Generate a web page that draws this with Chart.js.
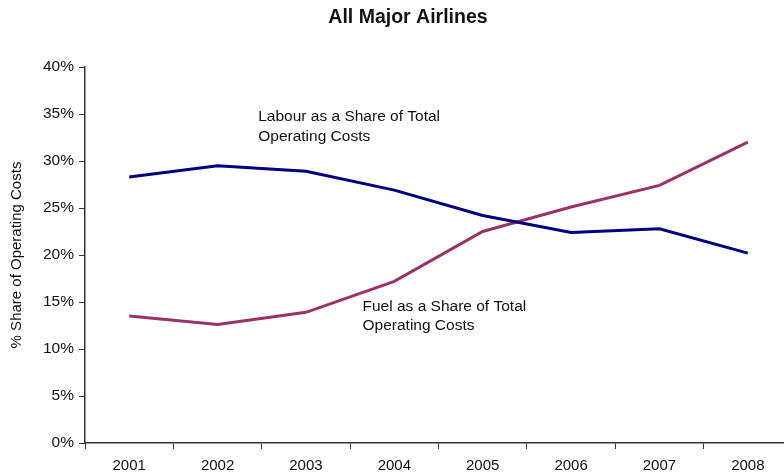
<!DOCTYPE html>
<html>
<head>
<meta charset="utf-8">
<script src="https://cdn.jsdelivr.net/npm/chart.js@4.4.1/dist/chart.umd.min.js"></script>
<style>
  html, body { margin: 0; padding: 0; background: #fff; overflow: hidden; }
  #wrap { width: 816px; height: 474px; }
</style>
</head>
<body>
<div id="wrap"><canvas id="airlineChart" width="816" height="474"></canvas></div>
<script>
const years = ['2001', '2002', '2003', '2004', '2005', '2006', '2007', '2008'];
const labourShare = [28.3, 29.5, 28.9, 26.9, 24.2, 22.4, 22.8, 20.2];
const fuelShare = [13.5, 12.6, 13.9, 17.2, 22.5, 25.1, 27.4, 32.0];
const yTicks = [0, 5, 10, 15, 20, 25, 30, 35, 40];

const FONT = '"Liberation Sans", Arial, sans-serif';
const INK = '#111';
const TITLE = 'All Major Airlines';

// text labels placed in data space (category index, percent)
const notes = [
  { lines: ['Labour as a Share of Total', 'Operating Costs'], x: 1.46, y: 34.7 },
  { lines: ['Fuel as a Share of Total', 'Operating Costs'], x: 2.64, y: 14.5 }
];

const notePlugin = {
  id: 'notes',
  afterDatasetsDraw(chart) {
    const { ctx, scales: { x, y } } = chart;
    ctx.save();
    ctx.font = '15.5px ' + FONT;
    ctx.fillStyle = INK;
    ctx.textAlign = 'left';
    ctx.textBaseline = 'middle';
    notes.forEach(n => {
      const px = x.getPixelForValue(n.x);
      const py = y.getPixelForValue(n.y);
      n.lines.forEach((t, i) => ctx.fillText(t, px, py + i * 19.5));
    });
    ctx.restore();
  }
};

// title centred on the whole canvas (the plot runs past the right edge)
const headPlugin = {
  id: 'head',
  afterDraw(chart) {
    const { ctx } = chart;
    ctx.save();
    ctx.font = 'bold 19.5px ' + FONT;
    ctx.fillStyle = INK;
    ctx.textAlign = 'center';
    ctx.textBaseline = 'middle';
    ctx.fillText(TITLE, chart.width / 2, 18);
    ctx.restore();
  }
};

new Chart(document.getElementById('airlineChart'), {
  type: 'line',
  data: {
    labels: years,
    datasets: [
      {
        label: 'Labour',
        data: labourShare,
        borderColor: '#000080',
        borderWidth: 3,
        pointRadius: 0,
        tension: 0,
        fill: false
      },
      {
        label: 'Fuel',
        data: fuelShare,
        borderColor: '#993366',
        borderWidth: 3,
        pointRadius: 0,
        tension: 0,
        fill: false
      }
    ]
  },
  options: {
    responsive: false,
    animation: false,
    layout: { padding: { left: 0, right: 24, top: 67, bottom: 0 } },
    plugins: {
      legend: { display: false },
      tooltip: { enabled: false },
      title: { display: false }
    },
    scales: {
      x: {
        offset: true,
        afterFit(scale) { scale.height = 31; },
        grid: {
          offset: true,
          drawOnChartArea: false,
          drawTicks: true,
          tickLength: 6,
          color: '#333'
        },
        border: { color: '#333', width: 1.5 },
        ticks: {
          color: INK,
          padding: 8,
          maxRotation: 0,
          font: { family: FONT, size: 15 }
        }
      },
      y: {
        min: 0,
        max: 40,
        afterFit(scale) { scale.width = 85; },
        afterBuildTicks(scale) { scale.ticks = yTicks.map(v => ({ value: v })); },
        grid: {
          drawOnChartArea: false,
          drawTicks: true,
          tickLength: 6,
          color: '#333'
        },
        border: { color: '#333', width: 1.5 },
        ticks: {
          color: INK,
          padding: 5,
          font: { family: FONT, size: 15.5 },
          callback: v => v + '%'
        },
        title: {
          display: true,
          text: '% Share of Operating Costs',
          color: INK,
          font: { family: FONT, size: 15 },
          padding: { top: 8, bottom: 0 }
        }
      }
    }
  },
  plugins: [notePlugin, headPlugin]
});
</script>
</body>
</html>
